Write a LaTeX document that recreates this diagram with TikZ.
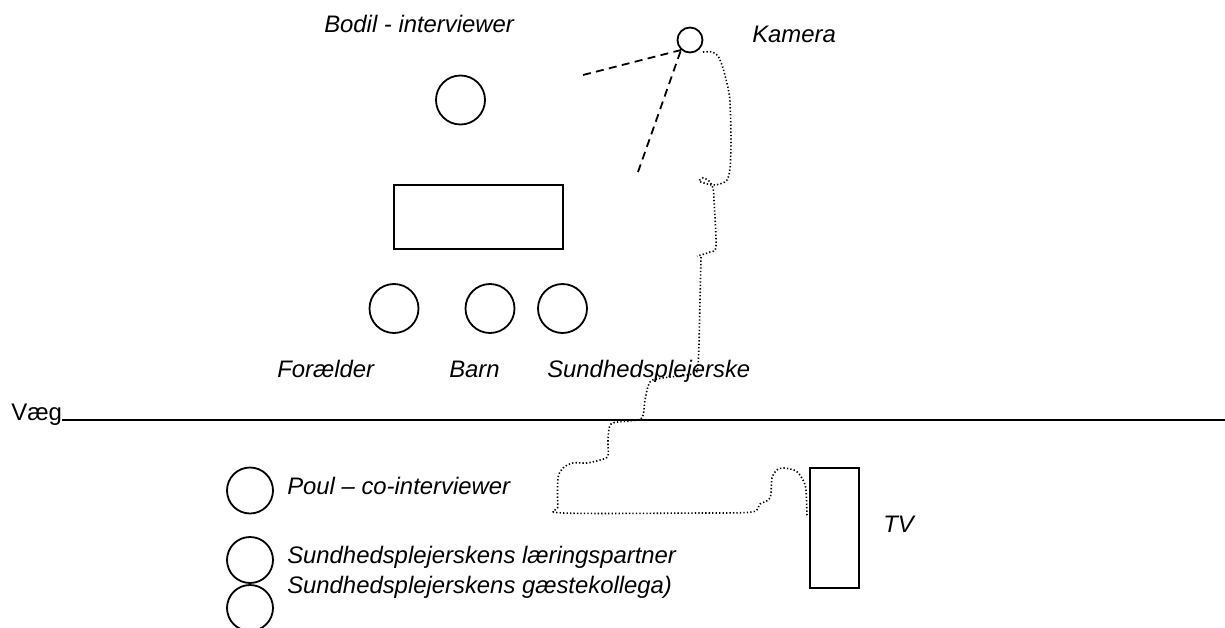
\documentclass[tikz,border=0pt]{standalone}
\usepackage{fontspec}
\setmainfont{Liberation Sans}
\begin{document}
\begin{tikzpicture}[x=0.75pt,y=-0.75pt,
  outline/.style={draw=black,line width=1.35pt},
  person/.style={outline,circle,inner sep=0pt,minimum size=36.75pt},
  guest/.style={outline,circle,inner sep=0pt,minimum size=34.5pt},
  lbl/.style={inner sep=0pt,anchor=base west,font=\fontsize{17.9}{21}\selectfont\itshape},
  view/.style={line width=1.35pt,dash pattern=on 6pt off 4pt},
  cable/.style={line width=1.2pt,dash pattern=on 1pt off 1.6pt}]
\clip (0,0) rectangle (1225,628);

% room furniture and people at the table
\node[person] (bodil) at (460.5,100) {};
\node[outline,rectangle,inner sep=0pt,minimum width=126.75pt,minimum height=48pt] (table) at (478.5,217) {};
\node[person] (parent) at (394,308.5) {};
\node[person] (child) at (490,308.5) {};
\node[person] (nurse) at (562.5,308.5) {};

% camera
\node[outline,circle,inner sep=0pt,minimum size=18.75pt] (cam) at (690,40) {};
\coordinate (viewA) at (583,75);
\coordinate (viewB) at (638,172);
\coordinate (lens) at (681,50);
\draw[view] (viewA) -- (lens);
\draw[view] (viewB) -- (lens);

% labels
\node[lbl] (lbodil) at (324,32) {Bodil - interviewer};
\node[lbl] (lcam) at (752,42) {Kamera};
\node[lbl] (lparent) at (277,377) {Forælder};
\node[lbl] (lchild) at (449,377) {Barn};
\node[lbl] (lnurse) at (547,377) {Sundhedsplejerske};

% wall
\node[inner sep=0pt,anchor=base west,font=\fontsize{18}{21}\selectfont] (vaeg) at (11,420) {Væg};
\coordinate (wallend) at (1225,420);
\draw[line width=1.35pt] (vaeg.base east) -- (wallend);

% observers behind the wall
\node[guest] (poul) at (250,490.5) {};
\node[guest] (partner) at (250,560) {};
\node[guest] (colleague) at (250,608) {};
\node[lbl] (lpoul) at (287,494) {Poul – co-interviewer};
\node[lbl] (lpartner) at (287,563) {Sundhedsplejerskens læringspartner};
\node[lbl] (lcolleague) at (287,593) {Sundhedsplejerskens gæstekollega)};

% television
\node[outline,rectangle,inner sep=0pt,minimum width=36.75pt,minimum height=90pt] (tv) at (834.5,528) {};
\node[lbl] (ltv) at (883,532) {TV};

% cable from the camera to the television
\coordinate (camout) at (703,52);
\coordinate (tvin) at (807,517);
\draw[cable] plot[smooth,tension=0.5] coordinates {
  (camout) (712,52) (718,56) (723,68) (728,88) (730,102) (731,140) (730,168)
  (727,180) (720,184) (712,185) (704,183) (699,181) (703,178) (709,181) (713,188)
  (714,200) (716,246) (710,252) (697,256)};
\draw[cable] plot[smooth,tension=0.5] coordinates {
  (701,257) (700,300) (698,365) (692,374) (662,378) (650,382) (645,400) (642,418)
  (628,421) (611,424) (608,440) (608,456) (600,460) (587,463) (573,463) (563,468)
  (558,478) (558,506) (563,513) (700,513) (752,512) (760,504) (770,498) (772,478)
  (777,470) (784,468) (796,471) (803,480) (806,490) (tvin)};
\end{tikzpicture}
\end{document}
